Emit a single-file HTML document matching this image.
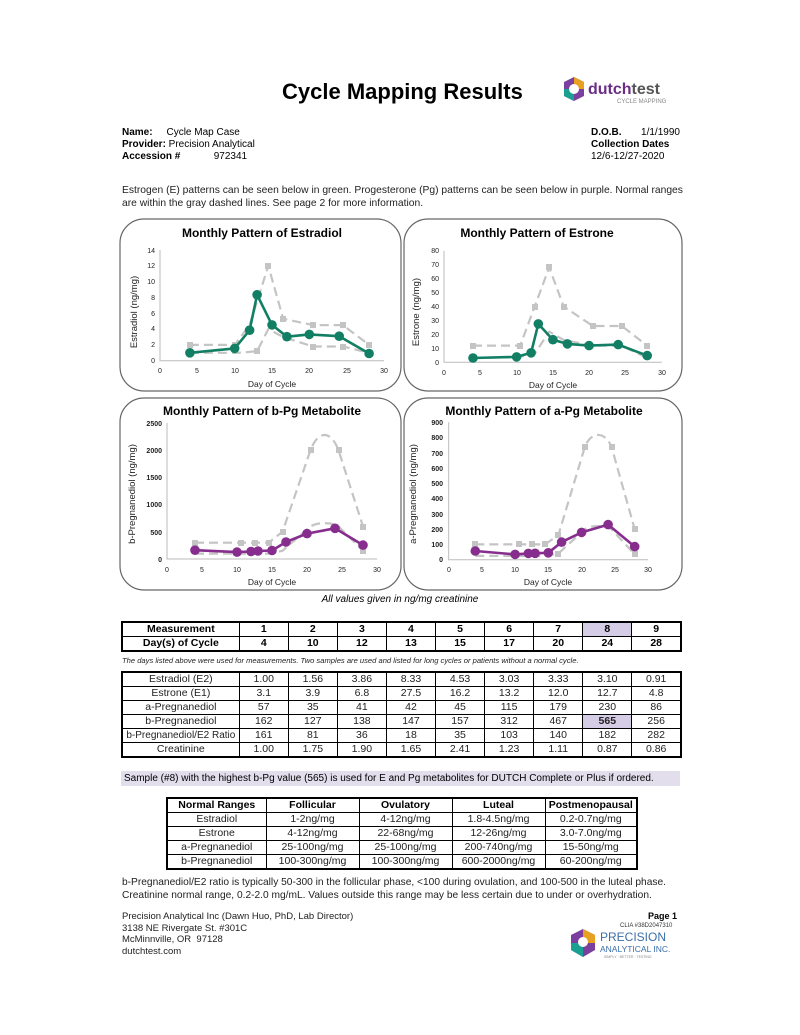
<!DOCTYPE html>
<html><head><meta charset="utf-8"><style>
body{margin:0;background:#fff;font-family:"Liberation Sans",Arial,sans-serif;color:#000}
.pg{position:relative;width:800px;height:1035px;overflow:hidden}
.a{position:absolute;white-space:nowrap}
table{border-collapse:collapse;position:absolute;font-family:"Liberation Sans",sans-serif;table-layout:fixed}
td{border:1px solid #000;text-align:center;padding:0;font-size:10.5px;line-height:13px;white-space:nowrap;overflow:hidden}
svg text{font-family:"Liberation Sans",sans-serif}
</style></head><body><div class="pg">
<div class="a" style="left:282px;top:79px;font-size:22px;font-weight:bold">Cycle Mapping Results</div>
<svg class="a" style="left:562px;top:76px" width="112" height="30"><polygon points="12,1 22,6 22,20 12,25 2,20 2,6" fill="#7b3fa0"/><polygon points="12,1 22,6 22,13 12,13" fill="#e8a020"/><polygon points="2,13 12,13 12,25 2,20" fill="#1aa090"/><circle cx="12" cy="13" r="5" fill="#fff"/><text x="26" y="18" font-size="16" font-weight="bold" fill="#6b2d86">dutch<tspan fill="#555">test</tspan></text><text x="55" y="27" font-size="6" fill="#888">CYCLE MAPPING</text></svg>
<div class="a" style="left:122px;top:127px;font-size:10px;line-height:12px"><b>Name:</b>&nbsp;&nbsp;&nbsp;&nbsp; Cycle Map Case<br><b>Provider:</b> Precision Analytical<br><b>Accession #</b>&nbsp;&nbsp;&nbsp;&nbsp;&nbsp;&nbsp;&nbsp;&nbsp;&nbsp;&nbsp;&nbsp; 972341</div>
<div class="a" style="left:591px;top:127px;font-size:10px;line-height:12px"><b>D.O.B.</b>&nbsp;&nbsp;&nbsp;&nbsp;&nbsp;&nbsp; 1/1/1990<br><b>Collection Dates</b><br>12/6-12/27-2020</div>
<div class="a" style="left:122px;top:184px;font-size:10.3px;line-height:13px;color:#222">Estrogen (E) patterns can be seen below in green. Progesterone (Pg) patterns can be seen below in purple. Normal ranges<br>are within the gray dashed lines. See page 2 for more information.</div>

<svg class="a" style="left:0;top:0" width="800" height="600">
<g fill="none" stroke="#666" stroke-width="1.2">
<rect x="120" y="219" width="281" height="172" rx="24"/>
<rect x="404" y="219" width="278" height="172" rx="24"/>
<rect x="120" y="398" width="281" height="192" rx="24"/>
<rect x="404" y="398" width="278" height="192" rx="24"/>
</g>
<g font-weight="bold" font-size="12" text-anchor="middle">
<text x="262" y="237">Monthly Pattern of Estradiol</text>
<text x="537" y="237">Monthly Pattern of Estrone</text>
<text x="262" y="415">Monthly Pattern of b-Pg Metabolite</text>
<text x="544" y="415">Monthly Pattern of a-Pg Metabolite</text>
</g>
<g stroke="#bbb" stroke-width="1" fill="none">
<path d="M160,250 V360.7 H384"/><path d="M444,250.7 V362.3 H661.7"/>
<path d="M167,423 V559 H377"/><path d="M448.7,422.3 V559.7 H648"/>
</g>
<g font-size="7" fill="#222" text-anchor="end">
<text x="155" y="363">0</text><text x="155" y="347">2</text><text x="155" y="331">4</text><text x="155" y="316">6</text><text x="155" y="300">8</text><text x="155" y="284">10</text><text x="155" y="268">12</text><text x="155" y="253">14</text>
<text x="439" y="365">0</text><text x="439" y="351">10</text><text x="439" y="337">20</text><text x="439" y="323">30</text><text x="439" y="309">40</text><text x="439" y="295">50</text><text x="439" y="281">60</text><text x="439" y="267">70</text><text x="439" y="253">80</text>
<g font-weight="bold"><text x="162" y="562">0</text><text x="162" y="535">500</text><text x="162" y="507">1000</text><text x="162" y="480">1500</text><text x="162" y="453">2000</text><text x="162" y="426">2500</text>
<text x="443" y="562">0</text><text x="443" y="547">100</text><text x="443" y="532">200</text><text x="443" y="517">300</text><text x="443" y="501">400</text><text x="443" y="486">500</text><text x="443" y="471">600</text><text x="443" y="456">700</text><text x="443" y="440">800</text><text x="443" y="425">900</text></g>
</g>
<g font-size="7" fill="#222" text-anchor="middle">
<text x="160" y="373">0</text><text x="197" y="373">5</text><text x="235" y="373">10</text><text x="272" y="373">15</text><text x="309" y="373">20</text><text x="347" y="373">25</text><text x="384" y="373">30</text>
<text x="444" y="375">0</text><text x="480" y="375">5</text><text x="517" y="375">10</text><text x="553" y="375">15</text><text x="589" y="375">20</text><text x="625" y="375">25</text><text x="662" y="375">30</text>
<text x="167" y="572">0</text><text x="202" y="572">5</text><text x="237" y="572">10</text><text x="272" y="572">15</text><text x="307" y="572">20</text><text x="342" y="572">25</text><text x="377" y="572">30</text>
<text x="449" y="572">0</text><text x="482" y="572">5</text><text x="515" y="572">10</text><text x="548" y="572">15</text><text x="582" y="572">20</text><text x="615" y="572">25</text><text x="648" y="572">30</text>
<g font-size="8.5"><text x="272" y="387">Day of Cycle</text><text x="553" y="388">Day of Cycle</text><text x="272" y="585">Day of Cycle</text><text x="548" y="585">Day of Cycle</text></g>
<g font-size="9.5"><text transform="translate(137,312) rotate(-90)">Estradiol (ng/mg)</text><text transform="translate(419,312) rotate(-90)">Estrone (ng/mg)</text>
<text transform="translate(135,494) rotate(-90)">b-Pregnanediol (ng/mg)</text><text transform="translate(416,494) rotate(-90)">a-Pregnanediol (ng/mg)</text></g>
</g>
<g fill="none" stroke="#c4c4c4" stroke-width="2.2" stroke-dasharray="9,5" stroke-linejoin="round">
<polyline points="189.9,344.9 234.7,344.9 249.6,325 268.3,265.8 283.2,318.8 313.1,325.1 342.9,325.1 369.1,344.9"/>
<polyline points="189.9,352.8 238.4,352.8 257.1,351.2 268.3,329.1 283.2,337 313.1,346.5 342.9,346.5 369.1,352.8"/>
<polyline points="473,345.6 520.2,345.6 534.7,306.5 549.2,267.4 563.7,306.5 592.8,326 621.8,326 647.2,345.6"/>
<polyline points="473,358.1 520.2,356.7 534.7,353.9 549.2,331.6 563.7,340 592.8,345.6 621.8,345.6 647.2,358.1"/>
<path d="M195,542.7 L268.5,542.7 L282.5,531.8 L310.5,450.2 C318,430 331,430 338.5,450.2 L363,526.4"/>
<path d="M195,553.6 L268.5,553.6 L282.5,550.8 L310.5,526.4 C318,522 331,522 338.5,526.4 L363,550.8"/>
<path d="M475.3,544.4 L545,544.4 L558.3,535.3 L584.9,446.8 C591,431 605,431 611.5,446.8 L634.7,529.2"/>
<path d="M475.3,555.9 L545,555.9 L558.3,553.6 L584.9,529.2 C591,525 605,525 611.5,529.2 L634.7,554.4"/>
</g>
<g fill="#c4c4c4">
<rect x="187" y="342" width="6" height="6"/><rect x="232" y="342" width="6" height="6"/><rect x="265" y="263" width="6" height="6"/><rect x="280" y="316" width="6" height="6"/><rect x="310" y="322" width="6" height="6"/><rect x="340" y="322" width="6" height="6"/><rect x="366" y="342" width="6" height="6"/><rect x="254" y="348" width="6" height="6"/><rect x="310" y="344" width="6" height="6"/><rect x="340" y="344" width="6" height="6"/>
<rect x="470" y="343" width="6" height="6"/><rect x="517" y="343" width="6" height="6"/><rect x="532" y="304" width="6" height="6"/><rect x="546" y="264" width="6" height="6"/><rect x="561" y="304" width="6" height="6"/><rect x="590" y="323" width="6" height="6"/><rect x="619" y="323" width="6" height="6"/><rect x="644" y="343" width="6" height="6"/>
<rect x="192" y="540" width="6" height="6"/><rect x="238" y="540" width="6" height="6"/><rect x="252" y="540" width="6" height="6"/><rect x="266" y="540" width="6" height="6"/><rect x="280" y="529" width="6" height="6"/><rect x="308" y="447" width="6" height="6"/><rect x="336" y="447" width="6" height="6"/><rect x="360" y="524" width="6" height="6"/><rect x="360" y="548" width="6" height="6"/>
<rect x="472" y="541" width="6" height="6"/><rect x="516" y="541" width="6" height="6"/><rect x="529" y="541" width="6" height="6"/><rect x="542" y="541" width="6" height="6"/><rect x="555" y="532" width="6" height="6"/><rect x="582" y="444" width="6" height="6"/><rect x="609" y="444" width="6" height="6"/><rect x="632" y="526" width="6" height="6"/><rect x="555" y="551" width="6" height="6"/><rect x="632" y="551" width="6" height="6"/>
</g>
<g fill="none" stroke-width="2.6" stroke-linejoin="round">
<polyline stroke="#127f64" points="189.9,352.8 234.7,348.4 249.6,330.2 257.1,294.8 272,324.9 286.9,336.7 309.3,334.4 339.2,336.2 369.1,353.5"/>
<polyline stroke="#127f64" points="473,358 516.6,356.9 531.1,352.8 538.3,323.9 552.9,339.7 567.4,343.9 589.1,345.6 618.2,344.6 647.2,355.6"/>
<polyline stroke="#862d8e" points="195,550.2 237,552.1 251,551.5 258,551 272,550.5 286,542 307,533.6 335,528.3 363,545.1"/>
<polyline stroke="#862d8e" points="475.3,551 515.1,554.4 528.4,553.4 535.1,553.3 548.3,552.8 561.6,542.1 581.6,532.4 608.1,524.6 634.7,546.6"/>
</g>
<g fill="#127f64">
<circle cx="189.9" cy="352.8" r="4.8"/><circle cx="234.7" cy="348.4" r="4.8"/><circle cx="249.6" cy="330.2" r="4.8"/><circle cx="257.1" cy="294.8" r="4.8"/><circle cx="272" cy="324.9" r="4.8"/><circle cx="286.9" cy="336.7" r="4.8"/><circle cx="309.3" cy="334.4" r="4.8"/><circle cx="339.2" cy="336.2" r="4.8"/><circle cx="369.1" cy="353.5" r="4.8"/>
<circle cx="473" cy="358" r="4.8"/><circle cx="516.6" cy="356.9" r="4.8"/><circle cx="531.1" cy="352.8" r="4.8"/><circle cx="538.3" cy="323.9" r="4.8"/><circle cx="552.9" cy="339.7" r="4.8"/><circle cx="567.4" cy="343.9" r="4.8"/><circle cx="589.1" cy="345.6" r="4.8"/><circle cx="618.2" cy="344.6" r="4.8"/><circle cx="647.2" cy="355.6" r="4.8"/>
</g>
<g fill="#862d8e">
<circle cx="195" cy="550.2" r="4.8"/><circle cx="237" cy="552.1" r="4.8"/><circle cx="251" cy="551.5" r="4.8"/><circle cx="258" cy="551" r="4.8"/><circle cx="272" cy="550.5" r="4.8"/><circle cx="286" cy="542" r="4.8"/><circle cx="307" cy="533.6" r="4.8"/><circle cx="335" cy="528.3" r="4.8"/><circle cx="363" cy="545.1" r="4.8"/>
<circle cx="475.3" cy="551" r="4.8"/><circle cx="515.1" cy="554.4" r="4.8"/><circle cx="528.4" cy="553.4" r="4.8"/><circle cx="535.1" cy="553.3" r="4.8"/><circle cx="548.3" cy="552.8" r="4.8"/><circle cx="561.6" cy="542.1" r="4.8"/><circle cx="581.6" cy="532.4" r="4.8"/><circle cx="608.1" cy="524.6" r="4.8"/><circle cx="634.7" cy="546.6" r="4.8"/>
</g>
</svg>
<div class="a" style="left:0;width:800px;text-align:center;top:594px;font-size:10px;font-style:italic">All values given in ng/mg creatinine</div>

<table style="left:121px;top:621px;width:561px;border:2px solid #000">
<colgroup><col style="width:117px"><col style="width:49px"><col style="width:49px"><col style="width:49px"><col style="width:49px"><col style="width:49px"><col style="width:49px"><col style="width:49px"><col style="width:49px"><col style="width:49px"></colgroup>
<tr><td><b>Measurement</b></td><td><b>1</b></td><td><b>2</b></td><td><b>3</b></td><td><b>4</b></td><td><b>5</b></td><td><b>6</b></td><td><b>7</b></td><td style="background:#d5cce6"><b>8</b></td><td><b>9</b></td></tr>
<tr><td><b>Day(s) of Cycle</b></td><td><b>4</b></td><td><b>10</b></td><td><b>12</b></td><td><b>13</b></td><td><b>15</b></td><td><b>17</b></td><td><b>20</b></td><td><b>24</b></td><td><b>28</b></td></tr>
</table>
<div class="a" style="left:122px;top:656px;font-size:7.6px;font-style:italic;color:#222">The days listed above were used for measurements. Two samples are used and listed for long cycles or patients without a normal cycle.</div>
<table style="left:121px;top:671px;width:561px;border:2px solid #000;color:#222">
<colgroup><col style="width:117px"><col style="width:49px"><col style="width:49px"><col style="width:49px"><col style="width:49px"><col style="width:49px"><col style="width:49px"><col style="width:49px"><col style="width:49px"><col style="width:49px"></colgroup>
<tr><td>Estradiol (E2)</td><td>1.00</td><td>1.56</td><td>3.86</td><td>8.33</td><td>4.53</td><td>3.03</td><td>3.33</td><td>3.10</td><td>0.91</td></tr>
<tr><td>Estrone (E1)</td><td>3.1</td><td>3.9</td><td>6.8</td><td>27.5</td><td>16.2</td><td>13.2</td><td>12.0</td><td>12.7</td><td>4.8</td></tr>
<tr><td>a-Pregnanediol</td><td>57</td><td>35</td><td>41</td><td>42</td><td>45</td><td>115</td><td>179</td><td>230</td><td>86</td></tr>
<tr><td>b-Pregnanediol</td><td>162</td><td>127</td><td>138</td><td>147</td><td>157</td><td>312</td><td>467</td><td style="background:#d5cce6;font-weight:bold">565</td><td>256</td></tr>
<tr><td style="font-size:10px">b-Pregnanediol/E2 Ratio</td><td>161</td><td>81</td><td>36</td><td>18</td><td>35</td><td>103</td><td>140</td><td>182</td><td>282</td></tr>
<tr><td>Creatinine</td><td>1.00</td><td>1.75</td><td>1.90</td><td>1.65</td><td>2.41</td><td>1.23</td><td>1.11</td><td>0.87</td><td>0.86</td></tr>
</table>
<div class="a" style="left:121px;top:771px;width:556px;height:15px;background:#e2deec;font-size:10px;line-height:15px;padding-left:3px">Sample (#8) with the highest b-Pg value (565) is used for E and Pg metabolites for DUTCH Complete or Plus if ordered.</div>

<table style="left:166px;top:797px;width:470px;border:2px solid #000;color:#222">
<colgroup><col style="width:99px"><col style="width:93px"><col style="width:93px"><col style="width:93px"><col style="width:92px"></colgroup>
<tr style="color:#000"><td><b>Normal Ranges</b></td><td><b>Follicular</b></td><td><b>Ovulatory</b></td><td><b>Luteal</b></td><td><b>Postmenopausal</b></td></tr>
<tr><td>Estradiol</td><td>1-2ng/mg</td><td>4-12ng/mg</td><td>1.8-4.5ng/mg</td><td>0.2-0.7ng/mg</td></tr>
<tr><td>Estrone</td><td>4-12ng/mg</td><td>22-68ng/mg</td><td>12-26ng/mg</td><td>3.0-7.0ng/mg</td></tr>
<tr><td>a-Pregnanediol</td><td>25-100ng/mg</td><td>25-100ng/mg</td><td>200-740ng/mg</td><td>15-50ng/mg</td></tr>
<tr><td>b-Pregnanediol</td><td>100-300ng/mg</td><td>100-300ng/mg</td><td>600-2000ng/mg</td><td>60-200ng/mg</td></tr>
</table>
<div class="a" style="left:122px;top:876px;font-size:10.2px;line-height:13px;color:#222">b-Pregnanediol/E2 ratio is typically 50-300 in the follicular phase, &lt;100 during ovulation, and 100-500 in the luteal phase.<br>Creatinine normal range, 0.2-2.0 mg/mL. Values outside this range may be less certain due to under or overhydration.</div>
<div class="a" style="left:122px;top:911px;font-size:9.5px;line-height:11.5px;color:#222">Precision Analytical Inc (Dawn Huo, PhD, Lab Director)<br>3138 NE Rivergate St. #301C<br>McMinnville, OR&nbsp; 97128<br>dutchtest.com</div>
<div class="a" style="left:648px;top:911px;font-size:9px;font-weight:bold">Page 1</div>
<div class="a" style="left:620px;top:923px;font-size:6px;color:#333">CLIA #38D2047310</div>
<svg class="a" style="left:570px;top:928px" width="112" height="32"><polygon points="13,1 25,7 25,22 13,29 1,22 1,7" fill="#7b3fa0"/><polygon points="13,1 25,7 25,15 13,15" fill="#e8a020"/><polygon points="1,15 13,15 13,29 1,22" fill="#1aa090"/><circle cx="13" cy="14" r="5" fill="#fff"/><text x="30" y="13" font-size="12" fill="#3b6ea8" font-family="Liberation Serif,serif">PRECISION</text><text x="30" y="24" font-size="8.5" fill="#3b6ea8" font-family="Liberation Serif,serif">ANALYTICAL INC.</text><text x="34" y="30" font-size="3.5" fill="#888">SIMPLY · BETTER · TESTING</text></svg>
</div></body></html>
